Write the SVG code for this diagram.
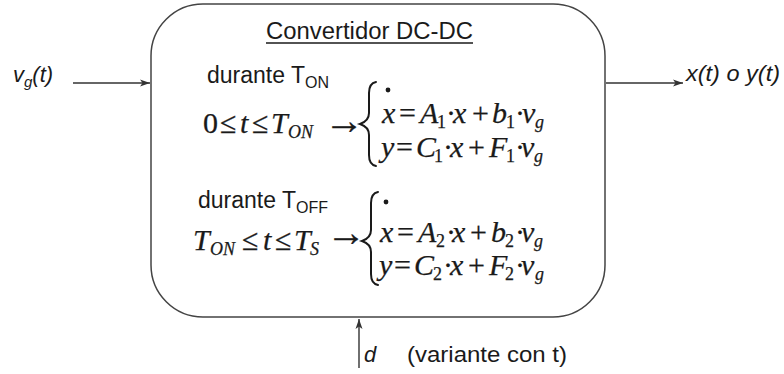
<svg xmlns="http://www.w3.org/2000/svg" width="784" height="374" viewBox="0 0 784 374">
<defs>
<style>
.sans{font-family:"Liberation Sans",Arial,sans-serif;fill:#1a1a1a}
.it{font-style:italic}
.m{font-family:"Liberation Serif","Times New Roman",serif;font-size:30px;fill:#1a1a1a;stroke:#1a1a1a;stroke-width:0.25}
.mi{font-style:italic}
.sub{font-size:18px}
.arr{font-size:40px}
.ln{stroke:#333;stroke-width:1.4;fill:none}
.br{stroke:#1a1a1a;stroke-width:2;fill:none;stroke-linecap:round}
</style>
<marker id="ah" markerWidth="10" markerHeight="8" refX="10" refY="4" orient="auto" markerUnits="userSpaceOnUse">
<path d="M0,0.5 L10,4 L0,7.5 L2.5,4 z" fill="#333"/>
</marker>
</defs>
<rect width="784" height="374" fill="#fff"/>

<g id="connectors">
<line class="ln" x1="73" y1="83" x2="150" y2="83" marker-end="url(#ah)"/>
<line class="ln" x1="606" y1="83" x2="683" y2="83" marker-end="url(#ah)"/>
<line class="ln" x1="359" y1="368" x2="359" y2="319" marker-end="url(#ah)"/>
</g>

<g id="input">
<text class="sans it" x="13" y="82" font-size="22">v<tspan font-size="15" dy="5">g</tspan><tspan dy="-5">(t)</tspan></text>
</g>

<g id="output">
<text class="sans it" x="686" y="81" font-size="22" textLength="94" lengthAdjust="spacingAndGlyphs">x(t) o y(t)</text>
</g>

<g id="control">
<text class="sans it" x="364" y="362" font-size="22">d</text>
<text class="sans" x="407" y="362" font-size="22" textLength="160" lengthAdjust="spacingAndGlyphs">(variante con t)</text>
</g>

<g id="convertidor">
<rect x="151" y="4" width="454" height="313" rx="52" ry="52" fill="#fff" stroke="#444" stroke-width="1.5"/>
<text class="sans" x="266" y="39" font-size="23" textLength="207" lengthAdjust="spacingAndGlyphs">Convertidor DC-DC</text>
<line x1="266" y1="43" x2="473" y2="43" stroke="#1a1a1a" stroke-width="1.3"/>

<text class="sans" x="207" y="83" font-size="23">durante T<tspan font-size="16" dy="5">ON</tspan></text>
<text class="m"><tspan x="203" y="133">0</tspan><tspan x="220">≤</tspan><tspan class="mi" x="240">t</tspan><tspan x="252">≤</tspan><tspan class="mi" x="271">T</tspan><tspan class="mi sub" x="288" dy="5">ON</tspan><tspan class="arr" x="324" dy="-4">→</tspan></text>
<path class="br" d="M376,82 C371,83 369,87 369,93 L369,113 C369,119 366,122 360,124 C366,126 369,129 369,135 L369,155 C369,161 371,165 376,166"/>
<circle cx="388" cy="90" r="2.4" fill="#1a1a1a"/>
<text class="m"><tspan class="mi" x="382" y="123">x</tspan><tspan x="399">=</tspan><tspan class="mi" x="420">A</tspan><tspan class="sub" x="437" dy="5">1</tspan><tspan x="446" dy="-5">·</tspan><tspan class="mi" x="453">x</tspan><tspan x="472">+</tspan><tspan class="mi" x="492">b</tspan><tspan class="sub" x="506" dy="5">1</tspan><tspan x="515" dy="-5">·</tspan><tspan class="mi" x="522">v</tspan><tspan class="mi sub" x="535" dy="5">g</tspan></text>
<text class="m"><tspan class="mi" x="381" y="157">y</tspan><tspan x="396">=</tspan><tspan class="mi" x="416">C</tspan><tspan class="sub" x="434" dy="5">1</tspan><tspan x="443" dy="-5">·</tspan><tspan class="mi" x="450">x</tspan><tspan x="468">+</tspan><tspan class="mi" x="489">F</tspan><tspan class="sub" x="506" dy="5">1</tspan><tspan x="515" dy="-5">·</tspan><tspan class="mi" x="521">v</tspan><tspan class="mi sub" x="534" dy="5">g</tspan></text>

<text class="sans" x="198" y="208" font-size="23">durante T<tspan font-size="16" dy="5">OFF</tspan></text>
<text class="m"><tspan class="mi" x="193" y="250">T</tspan><tspan class="mi sub" x="210" dy="5">ON</tspan><tspan x="242" dy="-5">≤</tspan><tspan class="mi" x="263">t</tspan><tspan x="275">≤</tspan><tspan class="mi" x="294">T</tspan><tspan class="mi sub" x="310" dy="5">S</tspan><tspan class="arr" x="326" dy="-9">→</tspan></text>
<path class="br" d="M378,192 C373,193 371,197 371,203 L371,230 C371,236 368,239 362,241 C368,243 371,246 371,252 L371,274 C371,280 373,284 378,285"/>
<circle cx="386" cy="202" r="2.4" fill="#1a1a1a"/>
<text class="m"><tspan class="mi" x="380" y="242">x</tspan><tspan x="397">=</tspan><tspan class="mi" x="418">A</tspan><tspan class="sub" x="436" dy="5">2</tspan><tspan x="446" dy="-5">·</tspan><tspan class="mi" x="452">x</tspan><tspan x="470">+</tspan><tspan class="mi" x="491">b</tspan><tspan class="sub" x="505" dy="5">2</tspan><tspan x="515" dy="-5">·</tspan><tspan class="mi" x="521">v</tspan><tspan class="mi sub" x="534" dy="5">g</tspan></text>
<text class="m"><tspan class="mi" x="379" y="275">y</tspan><tspan x="394">=</tspan><tspan class="mi" x="414">C</tspan><tspan class="sub" x="433" dy="5">2</tspan><tspan x="443" dy="-5">·</tspan><tspan class="mi" x="450">x</tspan><tspan x="468">+</tspan><tspan class="mi" x="489">F</tspan><tspan class="sub" x="505" dy="5">2</tspan><tspan x="515" dy="-5">·</tspan><tspan class="mi" x="521">v</tspan><tspan class="mi sub" x="535" dy="5">g</tspan></text>
</g>
</svg>
